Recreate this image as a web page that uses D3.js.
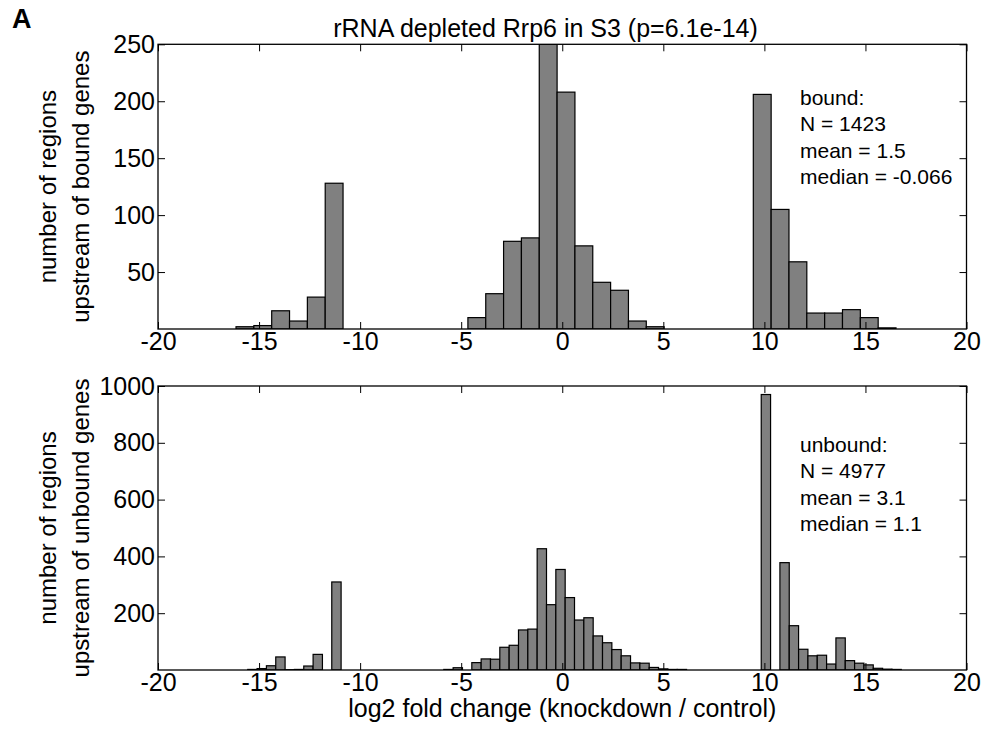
<!DOCTYPE html>
<html>
<head>
<meta charset="utf-8">
<script src="https://cdnjs.cloudflare.com/ajax/libs/d3/7.8.5/d3.min.js"></script>
<style>
body { margin: 0; background: #fff; }
text { font-family: "Liberation Sans", Arial, sans-serif; }
</style>
</head>
<body>
<script>
// histogram counts (log2 fold change bins)
var bound_start = -16.14, bound_width = 0.8825;
var bound_counts = [2, 3, 16, 7, 28, 128, 0, 0, 0, 0, 0, 0, 0,
    10, 31, 77, 80, 250, 208, 73, 41, 34, 7, 2, 0, 0, 0, 0, 0,
    206, 105, 59, 14, 14, 17, 10, 1];

var unbound_start = -15.56, unbound_width = 0.4619;
var unbound_counts = [2, 5, 15, 46, 1, 2, 14, 55, 0, 310,
    0, 0, 0, 0, 0, 0, 0, 0, 0, 0, 0,
    2, 8, 0, 26, 39, 38, 80, 87, 141, 144, 427, 230, 354, 255, 176, 184,
    120, 96, 72, 50, 25, 24, 9, 4, 2, 2,
    0, 0, 0, 0, 0, 0, 0, 0,
    970, 0, 378, 156, 73, 50, 52, 21, 113, 33, 24, 18, 6, 3, 2];

var x_ticks = [-20, -15, -10, -5, 0, 5, 10, 15, 20];
var bound_y_ticks = [50, 100, 150, 200, 250];
var unbound_y_ticks = [200, 400, 600, 800, 1000];

var bound_stats = ["bound:", "N = 1423", "mean = 1.5", "median = -0.066"];
var unbound_stats = ["unbound:", "N = 4977", "mean = 3.1", "median = 1.1"];

//layout
var width = 986, height = 729;
var left = 158, plot_w = 808.5;
var tick_len = 7;

var svg = d3.select("body").append("svg")
    .attr("width", width)
    .attr("height", height);

var x = d3.scaleLinear().domain([-20, 20]).range([0, plot_w]);

// plain ascii labels, like matplotlib gives
function fmt(d){ return String(d); }

function draw_panel(opts){
    var g = svg.append("g")
        .attr("transform", "translate(" + left + "," + opts.top + ")");
    var y = d3.scaleLinear().domain([0, opts.ymax]).range([opts.h, 0]);

    g.append("clipPath").attr("id", opts.id)
      .append("rect").attr("width", plot_w).attr("height", opts.h);

    var bins = opts.counts.map(function(c, i){
        return {x0: opts.start + i * opts.bw, x1: opts.start + (i + 1) * opts.bw, n: c};
    });

    g.append("g").attr("clip-path", "url(#" + opts.id + ")")
      .selectAll("rect")
      .data(bins.filter(function(d){ return d.n > 0; }))
      .enter().append("rect")
        .attr("x", function(d){ return x(d.x0); })
        .attr("width", function(d){ return x(d.x1) - x(d.x0); })
        .attr("y", function(d){ return y(d.n); })
        .attr("height", function(d){ return y(0) - y(d.n); })
        .attr("fill", "#808080")
        .attr("stroke", "#000")
        .attr("stroke-width", 1.2);

    g.append("g").attr("transform", "translate(0," + opts.h + ")")
        .call(d3.axisBottom(x).tickValues(x_ticks).tickSize(-tick_len).tickPadding(3.5).tickFormat(fmt));
    g.append("g")
        .call(d3.axisTop(x).tickValues(x_ticks).tickSize(-tick_len).tickFormat(""));
    g.append("g")
        .call(d3.axisLeft(y).tickValues(opts.yticks).tickSize(-tick_len).tickPadding(3).tickFormat(fmt));
    g.append("g").attr("transform", "translate(" + plot_w + ",0)")
        .call(d3.axisRight(y).tickValues(opts.yticks).tickSize(-tick_len).tickFormat(""));

    g.selectAll(".domain").remove();
    g.selectAll(".tick line").attr("stroke-width", 1);
    g.selectAll(".tick text")
        .attr("font-family", '"Liberation Sans", Arial, sans-serif')
        .attr("font-size", 25)
        .attr("fill", "#000");

    g.append("rect")
        .attr("width", plot_w).attr("height", opts.h)
        .attr("fill", "none").attr("stroke", "#000").attr("stroke-width", 1.3);

    // stats box
    g.append("g").selectAll("text")
      .data(opts.stats)
      .enter().append("text")
        .attr("x", 642)
        .attr("y", function(d, i){ return opts.stat_y + i * 26.4; })
        .attr("font-size", 21)
        .text(function(d){ return d; });

    // y label, two lines
    var cy = opts.top + opts.h / 2;
    opts.ylabel.forEach(function(t, i){
        svg.append("text")
          .attr("transform", "translate(" + (56 + i * 33) + "," + cy + ") rotate(-90)")
          .attr("text-anchor", "middle")
          .attr("font-size", 24)
          .text(t);
    });
}

draw_panel({id: "c1", top: 44.3, h: 284.7, ymax: 250, counts: bound_counts,
    start: bound_start, bw: bound_width, yticks: bound_y_ticks, stats: bound_stats,
    stat_y: 60.7, ylabel: ["number of regions", "upstream of bound genes"]});

draw_panel({id: "c2", top: 386, h: 284, ymax: 1000, counts: unbound_counts,
    start: unbound_start, bw: unbound_width, yticks: unbound_y_ticks, stats: unbound_stats,
    stat_y: 65.7, ylabel: ["number of regions", "upstream of unbound genes"]});

svg.append("text")
    .attr("x", 545.5).attr("y", 37)
    .attr("text-anchor", "middle")
    .attr("font-size", 25)
    .text("rRNA depleted Rrp6 in S3 (p=6.1e-14)");

svg.append("text")
    .attr("x", left + plot_w / 2).attr("y", 717)
    .attr("text-anchor", "middle")
    .attr("font-size", 25)
    .text("log2 fold change (knockdown / control)");

svg.append("text")
    .attr("x", 12).attr("y", 28)
    .attr("font-size", 27)
    .attr("font-weight", "bold")
    .text("A");
</script>
</body>
</html>
